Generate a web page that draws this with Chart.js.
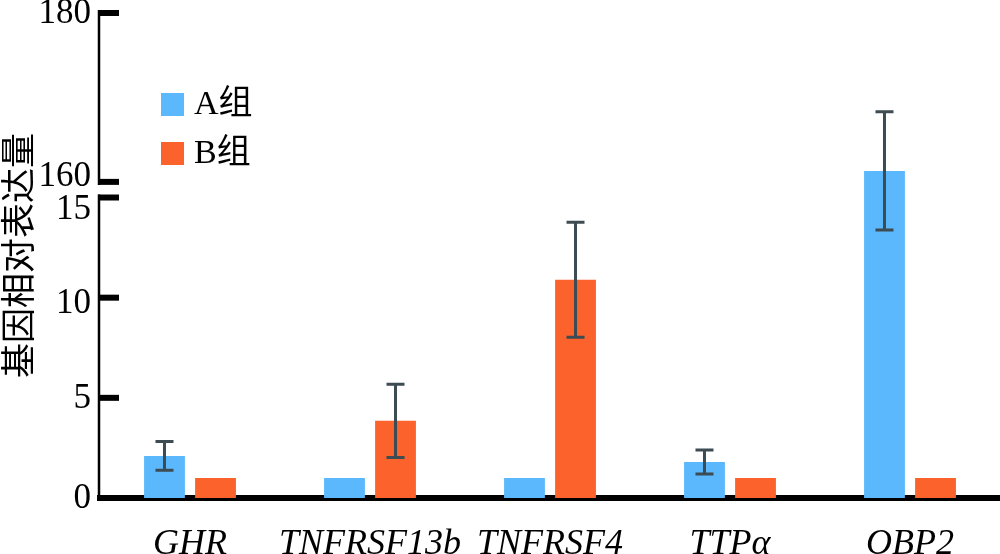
<!DOCTYPE html>
<html>
<head>
<meta charset="utf-8">
<script src="https://cdn.jsdelivr.net/npm/chart.js@4.4.1/dist/chart.umd.min.js"></script>
<style>
    body { margin: 0; background: #fff; }
    canvas { display: block; }
</style>
</head>
<body>
<canvas id="bieuDo" width="1000" height="554"></canvas>
<script>
const genes = ['GHR', 'TNFRSF13b', 'TNFRSF4', 'TTPα', 'OBP2'];
const groupA = [2.1, 1.0, 1.0, 1.8, 161.3];
const groupAErr = [0.72, 0, 0, 0.6, 7.0];
const groupB = [1.0, 3.85, 10.9, 1.0, 1.0];
const groupBErr = [0, 1.83, 2.87, 0, 0];
const yTicks = [0, 5, 10, 15, 160, 180];

// broken axis: 0-15 drawn as is, 160-180 squeezed above a small gap
const LOW_MAX = 15;
const HIGH_MIN = 160;
const GAP = 0.78;
const HIGH_SLOPE = 0.4215;

function toDisplay(v) {
    if (v <= LOW_MAX) return v;
    return LOW_MAX + GAP + (v - HIGH_MIN) * HIGH_SLOPE;
}

function slopeAt(v) {
    return v <= LOW_MAX ? 1 : HIGH_SLOPE;
}

const tickDisplay = yTicks.map(toDisplay);
// labels next to the break sit a little off their tick, as in the original
const labelShift = { 160: -6, 15: 11, 10: 5 };

// ################################################################################################
const errorBarPlugin = {
    id: 'errorBars',
    afterDatasetsDraw(chart) {
        const ctx = chart.ctx;
        const y = chart.scales.y;
        const errs = [groupAErr, groupBErr];
        const raws = [groupA, groupB];
        ctx.save();
        ctx.strokeStyle = '#3d4b53';
        ctx.lineWidth = 3;
        chart.data.datasets.forEach((ds, di) => {
            const meta = chart.getDatasetMeta(di);
            meta.data.forEach((bar, i) => {
                const err = errs[di][i];
                if (!err) return;
                const v = raws[di][i];
                const d = toDisplay(v);
                const arm = err * slopeAt(v);
                const top = y.getPixelForValue(d + arm);
                const bottom = y.getPixelForValue(d - arm);
                ctx.beginPath();
                ctx.moveTo(bar.x, top);
                ctx.lineTo(bar.x, bottom);
                ctx.moveTo(bar.x - 9, top);
                ctx.lineTo(bar.x + 9, top);
                ctx.moveTo(bar.x - 9, bottom);
                ctx.lineTo(bar.x + 9, bottom);
                ctx.stroke();
            });
        });
        ctx.restore();
    }
};

const brokenAxisPlugin = {
    id: 'brokenAxis',
    afterDraw(chart) {
        const ctx = chart.ctx;
        const y = chart.scales.y;
        const x0 = chart.chartArea.left;
        ctx.save();
        ctx.strokeStyle = '#000';
        ctx.lineWidth = 2.5;
        ctx.beginPath();
        ctx.moveTo(x0 - 1, y.getPixelForValue(toDisplay(180)) - 3);
        ctx.lineTo(x0 - 1, y.getPixelForValue(toDisplay(160)) + 3);
        ctx.moveTo(x0 - 1, y.getPixelForValue(toDisplay(15)) - 3);
        ctx.lineTo(x0 - 1, chart.chartArea.bottom);
        ctx.stroke();
        ctx.lineWidth = 6;
        ctx.fillStyle = '#000';
        ctx.font = '35px "Liberation Serif"';
        ctx.textAlign = 'right';
        ctx.textBaseline = 'middle';
        tickDisplay.forEach((v, i) => {
            const py = y.getPixelForValue(v);
            ctx.beginPath();
            ctx.moveTo(x0 - 2, py);
            ctx.lineTo(x0 + 19, py);
            ctx.stroke();
            ctx.fillText(String(yTicks[i]), x0 - 9, py + 1 + (labelShift[yTicks[i]] || 0));
        });
        ctx.restore();
    }
};

const legendPlugin = {
    id: 'sideLegend',
    afterDraw(chart) {
        const ctx = chart.ctx;
        ctx.save();
        ctx.font = '34px "Liberation Serif", "Noto Sans CJK SC"';
        ctx.textBaseline = 'middle';
        chart.data.datasets.forEach((ds, i) => {
            const cy = 104.5 + i * 49;
            ctx.fillStyle = ds.backgroundColor;
            ctx.fillRect(161, cy - 11.5, 23, 23);
            ctx.fillStyle = '#000';
            ctx.fillText(ds.label, 194, cy + 1);
        });
        ctx.restore();
    }
};

function showChart() {
    const canvas = document.getElementById('bieuDo');
    new Chart(canvas, {
        type: 'bar',
        data: {
            labels: genes,
            datasets: [{
                label: 'A组',
                data: groupA.map(toDisplay),
                backgroundColor: '#5BB8FC',
                barPercentage: 0.8,
                categoryPercentage: 0.567
            }, {
                label: 'B组',
                data: groupB.map(toDisplay),
                backgroundColor: '#FB622C',
                barPercentage: 0.8,
                categoryPercentage: 0.567
            }]
        },
        options: {
            responsive: false,
            animation: false,
            layout: { padding: { top: 13, left: 0, right: 0, bottom: 0 } },
            plugins: {
                legend: { display: false },
                tooltip: { enabled: false }
            },
            scales: {
                x: {
                    grid: { display: false, drawTicks: false },
                    border: { display: true, color: '#000', width: 6 },
                    ticks: {
                        color: '#000',
                        padding: 25,
                        autoSkip: false,
                        maxRotation: 0,
                        minRotation: 0,
                        font: { family: 'Liberation Serif', style: 'italic', size: 36 }
                    },
                    afterFit(scale) {
                        scale.height = 56;
                        scale.paddingLeft = 0;
                        scale.paddingRight = 0;
                    }
                },
                y: {
                    min: 0,
                    max: toDisplay(180),
                    grid: { display: false, drawTicks: false },
                    border: { display: false },
                    afterBuildTicks(scale) {
                        scale.ticks = tickDisplay.map(v => ({ value: v }));
                    },
                    ticks: { display: false },
                    title: {
                        display: true,
                        text: '基因相对表达量',
                        color: '#000',
                        padding: 0,
                        font: { family: 'Noto Sans CJK SC', size: 35, lineHeight: 1.0 }
                    },
                    afterFit(scale) {
                        scale.width = 100;
                        scale.paddingTop = 0;
                        scale.paddingBottom = 0;
                    }
                }
            }
        },
        plugins: [errorBarPlugin, brokenAxisPlugin, legendPlugin]
    });
}

showChart();
</script>
</body>
</html>
